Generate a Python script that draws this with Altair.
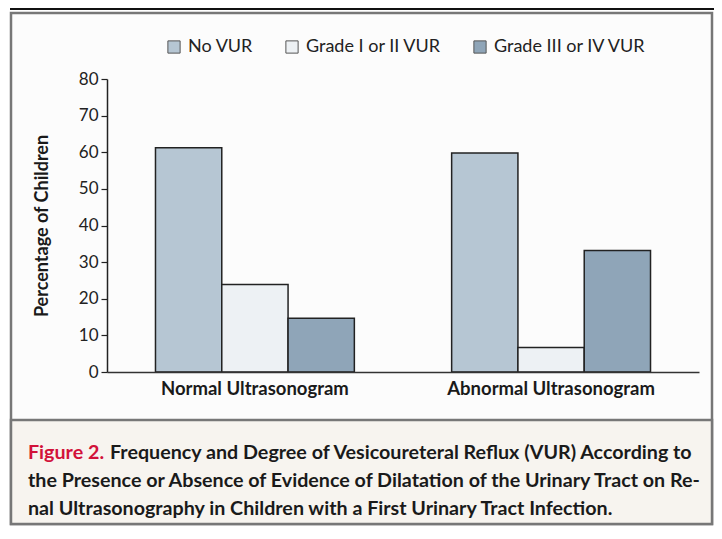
import altair as alt
import pandas as pd

# ---------------- data ----------------
groups = ["Normal Ultrasonogram", "Abnormal Ultrasonogram"]
series = ["No VUR", "Grade I or II VUR", "Grade III or IV VUR"]
normal_vals = [61.2, 23.9, 14.7]
abnormal_vals = [59.8, 6.7, 33.2]
series_colors = ["#b6c6d3", "#edf1f4", "#8fa5b8"]
y_ticks = [0, 10, 20, 30, 40, 50, 60, 70, 80]
y_title = "Percentage of Children"
fig_label = "Figure 2."
caption_lines = [
    "Frequency and Degree of Vesicoureteral Reflux (VUR) According to",
    "the Presence or Absence of Evidence of Dilatation of the Urinary Tract on Re-",
    "nal Ultrasonography in Children with a First Urinary Tract Infection.",
]

rows = []
for g, vals in zip(groups, [normal_vals, abnormal_vals]):
    for s, v in zip(series, vals):
        rows.append({"group": g, "series": s, "value": v})
df = pd.DataFrame(rows)

# ---------------- layout ----------------
W, H = 592, 293          # plot area
OX, OY = 107, 79         # page position of plot origin
PAD_L, PAD_T = OX - 8, OY - 8
SVG_W, SVG_H = 706, 518

def px(x):
    return x - OX

def py(y):
    return y - OY

FONT = "Lato"
one = pd.DataFrame({"k": [0]})

topline = alt.Chart(one).mark_rect(fill="#111111").encode(
    x=alt.value(px(10)), x2=alt.value(px(714)),
    y=alt.value(py(8)), y2=alt.value(py(10)))

box = alt.Chart(one).mark_rect(fill="#fcfcfc", stroke="#777777", strokeWidth=2.5).encode(
    x=alt.value(px(11)), x2=alt.value(px(712)),
    y=alt.value(py(13)), y2=alt.value(py(524)))

cap_bg = alt.Chart(one).mark_rect(fill="#f7f4ef", stroke="#777777", strokeWidth=2.5).encode(
    x=alt.value(px(11)), x2=alt.value(px(712)),
    y=alt.value(py(420)), y2=alt.value(py(524)))

bars = alt.Chart(df).mark_bar(stroke="#222222", strokeWidth=1.5).encode(
    x=alt.X("group:N", sort=groups,
            scale=alt.Scale(paddingInner=0.3285, paddingOuter=0.1637),
            axis=alt.Axis(title=None, labelAngle=0, labelFont=FONT, labelFontWeight="bold",
                          labelFontSize=18.5, labelColor="#1a1a1a", labelPadding=7, labelLimit=0,
                          ticks=False, domainColor="#333333", domainWidth=1.5, zindex=1)),
    xOffset=alt.XOffset("series:N", sort=series),
    y=alt.Y("value:Q", scale=alt.Scale(domain=[0, 80], nice=False),
            axis=alt.Axis(values=y_ticks, title=y_title, grid=False, zindex=1,
                          labelFont=FONT, labelFontSize=17, labelColor="#222222",
                          labelPadding=3, tickSize=6, tickColor="#222222", tickWidth=1.2,
                          domainColor="#222222", domainWidth=1.5,
                          titleFont=FONT, titleFontSize=18, titleFontWeight="bold",
                          titleColor="#1a1a1a", titleAngle=-90, titleX=px(42), titleY=H / 2,
                          titleAlign="center", titleBaseline="middle")),
    color=alt.Color("series:N", sort=series,
                    scale=alt.Scale(domain=series, range=series_colors),
                    legend=alt.Legend(title=None, orient="none", direction="horizontal",
                                      legendX=px(165), legendY=py(38), padding=0,
                                      symbolType="square", symbolSize=150,
                                      symbolStrokeColor="#555555", symbolStrokeWidth=1,
                                      symbolOpacity=1,
                                      labelFont=FONT, labelFontSize=18, labelColor="#222222",
                                      labelOffset=5, columnPadding=30)),
)

def text_layer(s, x, y, color="#1a1a1a"):
    return alt.Chart(one).mark_text(align="left", baseline="alphabetic", font=FONT,
                                    fontWeight="bold", fontSize=19.7, color=color).encode(
        x=alt.value(px(x)), y=alt.value(py(y)), text=alt.value(s))

cap = [
    text_layer(fig_label, 28, 459, color="#d2123a"),
    text_layer(caption_lines[0], 110, 459),
    text_layer(caption_lines[1], 28, 487),
    text_layer(caption_lines[2], 28, 515),
]

chart = alt.layer(topline, box, cap_bg, bars, *cap).properties(
    width=W, height=H,
    padding={"left": PAD_L, "top": PAD_T, "right": SVG_W - PAD_L - W, "bottom": SVG_H - PAD_T - H},
    autosize=alt.AutoSizeParams(type="none"),
    background="#ffffff",
).configure_view(stroke=None)

chart.save("out.html", embed_options={"renderer": "svg", "actions": False})
